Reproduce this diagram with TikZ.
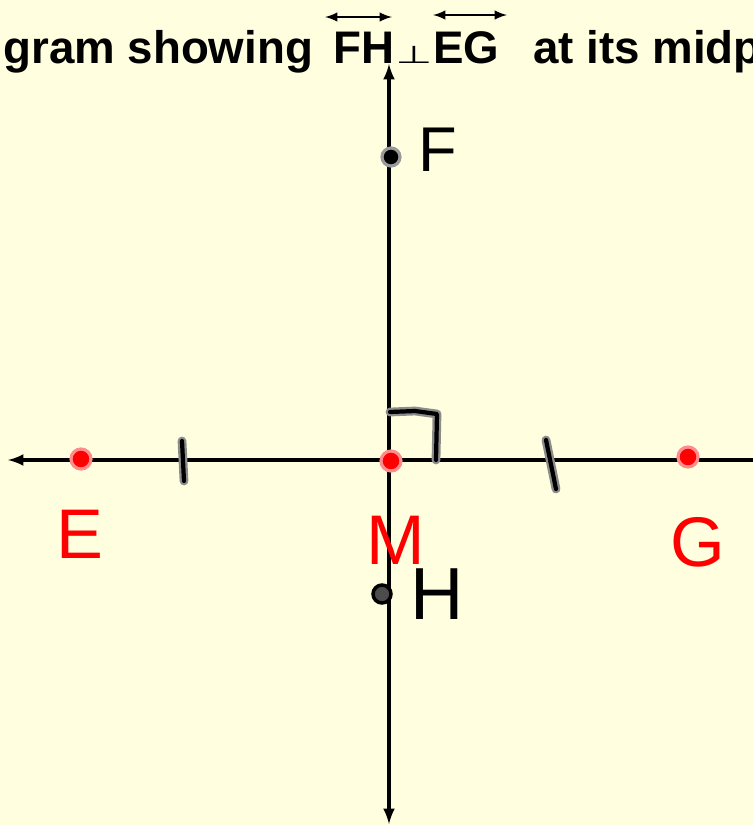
\documentclass[tikz,border=0pt]{standalone}
\usepackage{fontspec}
\setmainfont{Liberation Sans}
\newfontfamily\symbolfont{DejaVu Sans}
\usetikzlibrary{arrows}
\definecolor{paper}{HTML}{FFFFE0}
\tikzstyle{axis} = [line width=2pt,>=latex]
\tikzstyle{overarrow} = [line width=1.4pt,<->,>=latex]
\tikzstyle{heading} = [anchor=base west, inner sep=0pt, font=\bfseries\fontsize{26}{30}\selectfont]
\tikzstyle{reddot} = [circle, fill=red, draw=red!45, line width=1.8pt, inner sep=0pt, minimum size=0.4cm]
\tikzstyle{blackdot} = [circle, fill=black, draw=black!40, line width=1.8pt, inner sep=0pt, minimum size=0.36cm]
\tikzstyle{redletter} = [text=red, font=\fontsize{40}{44}\selectfont, inner sep=0pt]
\tikzstyle{blackletter} = [text=black, font=\fontsize{36}{40}\selectfont, inner sep=0pt]
\tikzstyle{hashmark} = [line width=2.4pt, line cap=round, line join=round, preaction={draw=black!45, line width=5pt, line cap=round, line join=round}]

\begin{document}
\begin{tikzpicture}[x=0.02cm, y=-0.02cm]
\fill[paper] (0,0) rectangle (753,825);
\useasboundingbox (0,0) rectangle (753,825);
\clip (0,0) rectangle (753,825);

% heading, cut at both sides
\node (head1) [heading] at (3,63) {gram showing};
\node (FH) [heading] at (333,63) {FH};
\node (perp) [anchor=base, inner sep=0pt, font=\symbolfont\fontsize{24}{26}\selectfont] at (414,63) {\scalebox{1}[0.58]{⊥}};
\node (EG) [heading] at (433,63) {EG};
\node (head2) [heading] at (533,63) {at its midp};
\draw [overarrow] (325,17) -- (392,17);
\draw [overarrow] (433,15) -- (507,15);

% the two lines
\coordinate (west) at (8,460);
\coordinate (east) at (753,460);
\coordinate (north) at (389,64);
\coordinate (south) at (389,824);
\draw [axis,<-] (west) -- (east);
\draw [axis,<->] (north) -- (south);

% points
\node (E) [reddot] at (81,459) {};
\node (M) [reddot] at (391,461) {};
\node (G) [reddot] at (688,457) {};
\node (F) [blackdot] at (391,157) {};
\node (H) [blackdot, fill=black!70, line width=2pt, draw=black] at (382,594) {};

% labels
\node (lblE) [redletter] at (80,534) {E};
\node (lblM) [redletter] at (396,540) {M};
\node (lblG) [redletter] at (698,542) {G};
\node (lblF) [blackletter] at (438,150) {F};
\node (lblH) [blackletter, font=\fontsize{42}{46}\selectfont] at (437,594) {H};

% congruence marks and right angle
\draw [hashmark] (182,441) -- (184,481);
\draw [hashmark] (546,440) -- (556,489);
\draw [hashmark] (390,412) -- (415,411) -- (437,414) -- (436,460);
\end{tikzpicture}
\end{document}
